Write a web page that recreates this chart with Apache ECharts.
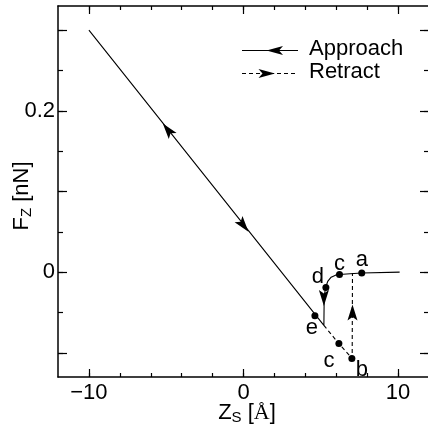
<!DOCTYPE html>
<html>
<head>
<meta charset="utf-8">
<script src="https://cdn.jsdelivr.net/npm/echarts@6/dist/echarts.min.js"></script>
<style>
  html, body { margin: 0; padding: 0; background: #fff; }
  #chart { width: 428px; height: 431px; }
</style>
</head>
<body>
<div id="chart"></div>
<script>
// approach path: flat part -> a -> c -> d, snap down, then the long solid slope
const approachX = [10.1, 7.65, 6.9, 6.21, 5.95, 5.67, 5.46, 5.31, 5.22, 5.2, -10];
const approachY = [0, -0.001, -0.002, -0.003, -0.0037, -0.0062, -0.011, -0.019, -0.03, -0.066, 0.30];
// retract path (dashed): down the slope to b, then jump up
const retractX = [5.2, 6.17, 7.03, 7.05];
const retractY = [-0.066, -0.0886, -0.107, -0.001];
// marked points
const pointNames = ['a', 'c', 'd', 'e', 'c', 'b'];
const pointX = [7.65, 6.21, 5.33, 4.62, 6.17, 7.01];
const pointY = [-0.001, -0.003, -0.019, -0.054, -0.0886, -0.107];
// direction arrows on the curves (rotation in degrees)
const arrowX = [-4.9, 0, 5.2, 7.05];
const arrowY = [0.1766, 0.058, -0.032, -0.05];
const arrowRot = [38.3, 218.3, 180, 0];
// ticks
const xMinorTicks = [-10, -8, -6, -4, -2, 0, 2, 4, 6, 8, 10];
const xMajorTicks = [-10, 0, 10];
const xTickLabels = [-10, 0, 10];
const yMinorTicks = [-0.1, -0.05, 0, 0.05, 0.1, 0.15, 0.2, 0.25, 0.3];
const yMajorTicks = [-0.1, 0, 0.1, 0.2, 0.3];
const yTickLabels = [0, 0.2];

const zip = (xs, ys) => xs.map((x, i) => [x, ys[i]]);
const font = 'Liberation Sans, Arial, Helvetica, sans-serif';
const fmt = v => (v < 0 ? '\u2212' + Math.abs(v) : String(v));
const arrowHead = 'path://M10,0 L20,32 L10,25 L0,32 Z';

const labelOffsets = [[0, -13], [0, -11], [-8, -11], [-3, 12], [-10, 17], [10, 11]];

function xAx(grid, pos, ticks, len, withLine, labels) {
  return {
    type: 'value', gridIndex: grid, position: pos, min: -12, max: 12,
    axisLine: { show: withLine, onZero: false, lineStyle: { color: '#000', width: 1.5 } },
    axisTick: { show: true, inside: true, length: len, customValues: ticks, lineStyle: { color: '#000', width: 1.2 } },
    axisLabel: labels ? { show: true, customValues: labels, formatter: fmt, color: '#000', fontSize: 22, fontFamily: font, margin: 5 } : { show: false },
    splitLine: { show: false }
  };
}
function yAx(grid, pos, ticks, len, withLine, labels) {
  return {
    type: 'value', gridIndex: grid, position: pos, min: -0.13, max: 0.33,
    axisLine: { show: withLine, onZero: false, lineStyle: { color: '#000', width: 1.5 } },
    axisTick: { show: true, inside: true, length: len, customValues: ticks, lineStyle: { color: '#000', width: 1.2 } },
    axisLabel: labels ? { show: true, customValues: labels, formatter: fmt, color: '#000', fontSize: 22, fontFamily: font, margin: 3 } : { show: false },
    splitLine: { show: false }
  };
}

const gridBox = { left: 58, top: 6, width: 371, height: 371, outerBoundsMode: 'none' };

const chart = echarts.init(document.getElementById('chart'), null, { renderer: 'canvas' });
chart.setOption({
  animation: false,
  backgroundColor: '#fff',
  grid: [Object.assign({}, gridBox), Object.assign({}, gridBox)],
  xAxis: [
    xAx(0, 'bottom', xMinorTicks, 4, true, xTickLabels),
    xAx(0, 'top', xMinorTicks, 4, true, null),
    xAx(1, 'bottom', xMajorTicks, 8, false, null),
    xAx(1, 'top', xMajorTicks, 8, false, null)
  ],
  yAxis: [
    yAx(0, 'left', yMinorTicks, 5, true, yTickLabels),
    yAx(0, 'right', yMinorTicks, 5, false, null),
    yAx(1, 'left', yMajorTicks, 9, false, null),
    yAx(1, 'right', yMajorTicks, 9, false, null)
  ],
  series: [
    {
      type: 'line', xAxisIndex: 0, yAxisIndex: 0, data: zip(approachX, approachY),
      showSymbol: false, lineStyle: { color: '#000', width: 1.1 }
    },
    {
      type: 'line', xAxisIndex: 0, yAxisIndex: 0, data: zip(retractX, retractY),
      showSymbol: false, lineStyle: { color: '#000', width: 1.1, type: [4, 3] }
    },
    {
      type: 'scatter', xAxisIndex: 0, yAxisIndex: 0, symbol: arrowHead, symbolSize: [10, 16],
      itemStyle: { color: '#000', opacity: 1, borderWidth: 0 },
      data: arrowX.map((x, i) => ({ value: [x, arrowY[i]], symbolRotate: arrowRot[i] }))
    },
    {
      type: 'scatter', xAxisIndex: 0, yAxisIndex: 0, symbol: 'circle', symbolSize: 7,
      itemStyle: { color: '#000', opacity: 1 },
      data: pointX.map((x, i) => ({
        value: [x, pointY[i]], name: pointNames[i],
        label: {
          show: true, position: 'inside', offset: labelOffsets[i], formatter: '{b}',
          color: '#000', fontSize: 22, fontFamily: font
        }
      }))
    }
  ],
  graphic: [
    // legend
    { type: 'line', shape: { x1: 242, y1: 50.5, x2: 298, y2: 50.5 }, style: { stroke: '#000', lineWidth: 1.1 } },
    { type: 'polygon', shape: { points: [[266.5, 50.5], [283, 46], [279, 50.5], [283, 55]] }, style: { fill: '#000' } },
    { type: 'line', shape: { x1: 242, y1: 73.5, x2: 298, y2: 73.5 }, style: { stroke: '#000', lineWidth: 1.1, lineDash: [4, 3] } },
    { type: 'polygon', shape: { points: [[275, 73.5], [258.5, 69], [262.5, 73.5], [258.5, 78]] }, style: { fill: '#000' } },
    { type: 'text', left: 309, top: 38, style: { text: 'Approach', fill: '#000', font: '22px ' + font } },
    { type: 'text', left: 309, top: 61, style: { text: 'Retract', fill: '#000', font: '22px ' + font } },
    // axis names
    {
      type: 'text', x: 22, y: 196, rotation: Math.PI / 2,
      style: {
        text: '{a|F}{s|Z}{a| [nN]}', align: 'center', verticalAlign: 'middle',
        rich: {
          a: { fontSize: 22, fontFamily: font, fill: '#000', color: '#000' },
          s: { fontSize: 15, fontFamily: font, fill: '#000', color: '#000', padding: [9, 0, 0, 0] }
        }
      }
    },
    {
      type: 'text', x: 247, y: 413,
      style: {
        text: '{a|Z}{s|S}{a| [}{b|\u00c5}{a|]}', align: 'center', verticalAlign: 'middle',
        rich: {
          a: { fontSize: 22, fontFamily: font, fill: '#000', color: '#000' },
          s: { fontSize: 15, fontFamily: font, fill: '#000', color: '#000', padding: [9, 0, 0, 0] },
          b: { fontSize: 22, fontFamily: 'Liberation Serif, DejaVu Serif, serif', fill: '#000', color: '#000' }
        }
      }
    }
  ]
});
</script>
</body>
</html>
